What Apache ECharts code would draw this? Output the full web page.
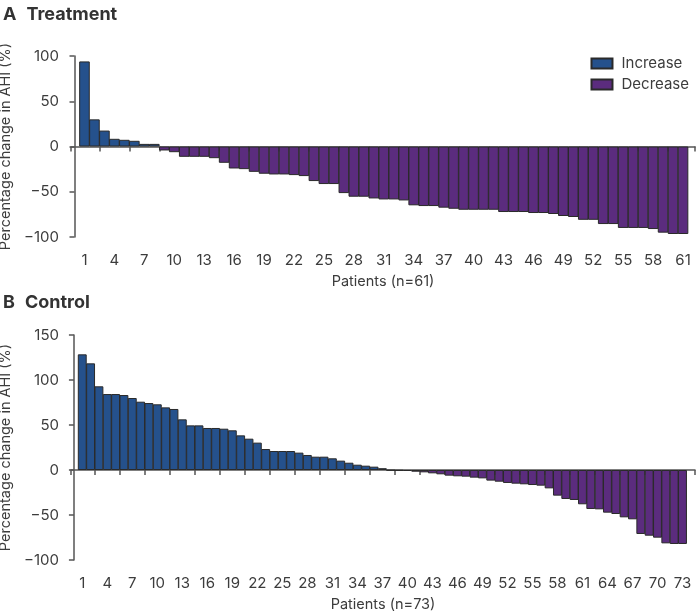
<!DOCTYPE html>
<html>
<head>
<meta charset="utf-8">
<script src="https://cdn.jsdelivr.net/npm/echarts@6/dist/echarts.min.js"></script>
<style>
  html, body { margin: 0; padding: 0; background: #fff; }
  #main { width: 696px; height: 613px; }
</style>
</head>
<body>
<div id="main"></div>
<script>
// percentage change in AHI, one value per patient, sorted
const treatmentValues = [94, 30, 17.6, 8.5, 7.4, 6.3, 2.9, 2.9, -4.4, -6.3,
  -11.4, -11.4, -11.4, -12.9, -18, -24.3, -25, -28, -30.1, -30.9,
  -30.9, -31.6, -32.7, -38.2, -41.5, -41.5, -51.5, -55.5, -55.5, -57.4,
  -58.5, -58.5, -59.6, -65, -65.8, -65.8, -67.6, -68.8, -69.9, -69.9,
  -69.9, -69.9, -72.4, -72.4, -72.4, -73.5, -73.5, -74.6, -76.8, -77.9,
  -81, -81, -85.7, -85.7, -90, -90, -90, -91.2, -95.2, -96.7, -96.7];
const controlValues = [128.5, 118.5, 93, 84.4, 84.4, 83.3, 80, 75.9, 74.4, 73,
  69.6, 67.8, 56.3, 49.6, 49.6, 46.7, 46.7, 45.9, 44.1, 38.5,
  34.8, 30.4, 23.3, 21.1, 21.1, 21.1, 19.3, 16.7, 14.8, 14.8,
  13, 10.4, 8.1, 5.9, 4.8, 3.7, 2, -0.5, -0.8,
  -1.1, -1.9, -2.6, -3.7, -4.8, -6.3, -7, -7.4, -8.5, -9.3, -11.8, -13, -14.4, -15.2, -15.9,
  -16.7, -17.4, -20.4, -28.5, -32.2, -33.3, -38.1, -43.3, -43.7, -47.4, -48.9, -52.6, -54.8,
  -71.1, -73, -75.2, -81.5, -82.2, -82.2];
const treatmentLabels = [1, 4, 7, 10, 13, 16, 19, 22, 25, 28, 31, 34, 37, 40, 43, 46, 49, 52, 55, 58, 61];
const controlLabels = [1, 4, 7, 10, 13, 16, 19, 22, 25, 28, 31, 34, 37, 40, 43, 46, 49, 52, 55, 58, 61, 64, 67, 70, 73];

const BLUE = '#25518c';
const PURPLE = '#5b2c7e';
const TXT = '#3c3c3c';
const FONT = 'Inter';

function splitSign(vals, positive) {
  return vals.map((v, i) => [i + 1, (positive ? v >= 0 : v < 0) ? v : null]);
}
function tickList(min, max) {
  let t = [min];
  for (let v = 2.5; v <= max + 0.01; v += 3) t.push(v);
  if (t[t.length - 1] < max - 0.5) t.push(max);
  return t;
}
const minus = v => String(v).replace('-', '\u2212');

const chart = echarts.init(document.getElementById('main'));

function xAxisFor(idx, labels, maxV, name) {
  return {
    type: 'value', gridIndex: idx, min: -0.35, max: maxV,
    name: name, nameLocation: 'middle', nameGap: 37,
    nameTextStyle: { color: TXT, fontSize: 14.5, fontFamily: FONT },
    axisLine: { lineStyle: { color: '#555', width: 1.5 } },
    axisTick: { length: 5, customValues: tickList(-0.35, maxV), lineStyle: { color: '#555', width: 1.5 } },
    axisLabel: { customValues: labels, margin: 16, color: TXT, fontSize: 15, fontFamily: FONT },
    splitLine: { show: false }
  };
}
function yAxisFor(idx, min, max) {
  return {
    type: 'value', gridIndex: idx, min: min, max: max, interval: 50,
    name: 'Percentage change in AHI (%)', nameLocation: 'middle', nameGap: 51,
    nameTextStyle: { color: TXT, fontSize: 14.5, fontFamily: FONT },
    axisLine: { show: true, lineStyle: { color: '#555', width: 1.5 } },
    axisTick: { show: true, length: 5, lineStyle: { color: '#555', width: 1.5 } },
    axisLabel: { margin: 12, color: TXT, fontSize: 15, fontFamily: FONT, formatter: minus },
    splitLine: { show: false }
  };
}
function barSeries(name, color, idx, data, w) {
  return {
    name: name, type: 'bar', xAxisIndex: idx, yAxisIndex: idx,
    barWidth: w, barGap: '-100%', data: data,
    itemStyle: { color: color, borderColor: '#2a2a2a', borderWidth: 1 },
    emphasis: { disabled: true }
  };
}

const option = {
  animation: false,
  title: [
    { text: '{a|A}  {b|Treatment}', left: 3, top: 6, padding: 0,
      textStyle: { rich: { a: { fontSize: 18, color: '#333', fontFamily: FONT },
                           b: { fontSize: 18, fontWeight: 'bold', color: '#333', fontFamily: FONT } } } },
    { text: '{a|B}  {b|Control}', left: 3, top: 294, padding: 0,
      textStyle: { rich: { a: { fontSize: 18, color: '#333', fontFamily: FONT },
                           b: { fontSize: 18, fontWeight: 'bold', color: '#333', fontFamily: FONT } } } }
  ],
  legend: {
    data: ['Increase', 'Decrease'], orient: 'vertical', right: 2, top: 51,
    itemWidth: 21, itemHeight: 10, itemGap: 6, icon: 'rect',
    textStyle: { color: TXT, fontSize: 15, fontFamily: FONT, padding: [0, 0, 0, 4] }
  },
  grid: [
    { left: 71, right: 1, top: 56, height: 181, outerBoundsMode: 'none' },
    { left: 71, right: 1, top: 335, height: 225, outerBoundsMode: 'none' }
  ],
  xAxis: [
    xAxisFor(0, treatmentLabels, 62.2, 'Patients (n=61)'),
    xAxisFor(1, controlLabels, 74.5, 'Patients (n=73)')
  ],
  yAxis: [yAxisFor(0, -100, 100), yAxisFor(1, -100, 150)],
  series: [
    barSeries('Increase', BLUE, 0, splitSign(treatmentValues, true), 10.6),
    barSeries('Decrease', PURPLE, 0, splitSign(treatmentValues, false), 10.6),
    barSeries('Increase', BLUE, 1, splitSign(controlValues, true), 8.9),
    barSeries('Decrease', PURPLE, 1, splitSign(controlValues, false), 8.9)
  ]
};
chart.setOption(option);
</script>
</body>
</html>
